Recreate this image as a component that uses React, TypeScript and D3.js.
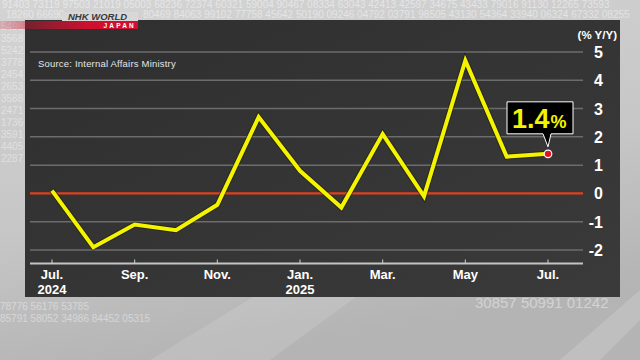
import React, { useEffect, useRef } from "react";
import * as d3 from "d3";

// real household spending, % Y/Y
const months = ["Jul.", "Aug.", "Sep.", "Oct.", "Nov.", "Dec.", "Jan.", "Feb.", "Mar.", "Apr.", "May", "Jun.", "Jul."];
const years = ["2024", "", "", "", "", "", "2025", "", "", "", "", "", ""];
const values = [0.1, -1.9, -1.1, -1.3, -0.4, 2.7, 0.8, -0.5, 2.1, -0.1, 4.7, 1.3, 1.4];
const yTicks = [5, 4, 3, 2, 1, 0, -1, -2];
const labelEvery = 2;

// decorative ticker digits in the backdrop
const topRow = "91403 73119 97503 21019 05003 68236 72374 60321 59004 90467 08334 63043 42413 42597 34675 43433 79016 91130 12265 73593";
const secondRowLeft = "18260 66690";
const secondRowRight = "80469 84063 99102 77758 45642 50190 09246 04792 03791 98505 43130 54364 33940 06324 67332 08255";
const leftRows = ["5496", "3568", "5242", "3778", "2454", "2653", "3588", "2471", "1736", "3591", "4405", "2287"];
const bottomLeftRows = ["78776 56176 53785", "85791 58052 34986 84452 05315"];
const bottomRightRows = ["30857 50991 01242"];

const W = 640;
const H = 360;

export default function App() {
  const svgRef = useRef<SVGSVGElement>(null);

  useEffect(() => {
    document.body.style.margin = "0";
    const svg = d3.select(svgRef.current);
    svg.selectAll("*").remove();

    const defs = svg.append("defs");
    const bg = defs.append("linearGradient").attr("id", "bg").attr("x1", 0).attr("y1", 0).attr("x2", 0.3).attr("y2", 1);
    bg.append("stop").attr("offset", "0%").attr("stop-color", "#d4d4d4");
    bg.append("stop").attr("offset", "60%").attr("stop-color", "#c6c6c6");
    bg.append("stop").attr("offset", "100%").attr("stop-color", "#b4b4b4");

    const panel = defs.append("linearGradient").attr("id", "panel").attr("x1", 0).attr("y1", 0).attr("x2", 1).attr("y2", 1);
    panel.append("stop").attr("offset", "0%").attr("stop-color", "#2f2f2f");
    panel.append("stop").attr("offset", "100%").attr("stop-color", "#3a3a3a");

    const red = defs.append("linearGradient").attr("id", "red").attr("x1", 0).attr("x2", 1).attr("y1", 0).attr("y2", 0);
    red.append("stop").attr("offset", "0%").attr("stop-color", "#d0102e").attr("stop-opacity", 0.2);
    red.append("stop").attr("offset", "65%").attr("stop-color", "#d0102e").attr("stop-opacity", 1);

    svg.append("rect").attr("width", W).attr("height", H).attr("fill", "url(#bg)");
    svg.append("path")
      .attr("d", "M150,360 L330,250 L420,250 L270,360 Z")
      .attr("fill", "#ffffff").attr("opacity", 0.12);
    svg.append("path")
      .attr("d", "M560,360 L640,290 L640,320 L600,360 Z")
      .attr("fill", "#ffffff").attr("opacity", 0.15);

    const digits = svg.append("g")
      .attr("font-family", "'Liberation Sans Narrow', 'Liberation Sans', Arial, sans-serif")
      .attr("fill", "#ffffff");
    digits.append("text").attr("x", 2).attr("y", 8).attr("font-size", 10).attr("opacity", 0.45).text(topRow);
    digits.append("text").attr("x", 6).attr("y", 18).attr("font-size", 10).attr("opacity", 0.45).text(secondRowLeft);
    digits.append("text").attr("x", 143).attr("y", 18).attr("font-size", 10).attr("opacity", 0.45).text(secondRowRight);
    leftRows.forEach((r, i) => {
      digits.append("text").attr("x", 1).attr("y", 30 + i * 12).attr("font-size", 10)
        .attr("opacity", 0.4).text(r);
    });
    bottomLeftRows.forEach((r, i) => {
      digits.append("text").attr("x", 0).attr("y", 310 + i * 12).attr("font-size", 10)
        .attr("opacity", 0.4).text(r);
    });
    bottomRightRows.forEach((r, i) => {
      digits.append("text").attr("x", 475).attr("y", 308 + i * 19).attr("font-size", 15)
        .attr("opacity", 0.4).text(r);
    });

    // chart panel
    svg.append("rect").attr("x", 25).attr("y", 20).attr("width", 595).attr("height", 277).attr("fill", "url(#panel)");

    // logo
    svg.append("rect").attr("x", 0).attr("y", 21).attr("width", 138).attr("height", 8).attr("fill", "url(#red)");
    svg.append("rect").attr("x", 62).attr("y", 12).attr("width", 76).attr("height", 9).attr("fill", "#d8d8d8");
    svg.append("text").attr("x", 68).attr("y", 20).attr("font-family", "'Liberation Sans', Arial, sans-serif")
      .attr("font-size", 9.5).attr("font-weight", "bold").attr("font-style", "italic").attr("fill", "#3a3a3a")
      .text("NHK WORLD");
    svg.append("text").attr("x", 136).attr("y", 28).attr("text-anchor", "end")
      .attr("font-family", "'Liberation Sans', Arial, sans-serif")
      .attr("font-size", 6.5).attr("font-weight", "bold").attr("letter-spacing", 2.2).attr("fill", "#ffffff")
      .text("JAPAN");

    const x = d3.scalePoint<number>().domain(d3.range(months.length)).range([52, 548]);
    const y = d3.scaleLinear().domain([-2, 5]).range([250, 52]);
    const x0 = 30;
    const x1 = 583;

    // gridlines
    svg.append("g").selectAll("line").data(yTicks.filter((t) => t !== 0)).join("line")
      .attr("x1", x0).attr("x2", x1).attr("y1", (d) => y(d)).attr("y2", (d) => y(d))
      .attr("stroke", "#6c6c6c").attr("stroke-width", 1.5);

    svg.append("line").attr("x1", x0).attr("x2", x1).attr("y1", y(0)).attr("y2", y(0))
      .attr("stroke", "#e0401c").attr("stroke-width", 2.2);

    const font = "'Liberation Sans', Arial, Helvetica, sans-serif";

    svg.append("text").attr("x", 38).attr("y", 67).attr("font-family", font).attr("font-size", 9.5)
      .attr("letter-spacing", 0.2).attr("fill", "#e6e6e6").text("Source: Internal Affairs Ministry");

    svg.append("g").selectAll("text").data(yTicks).join("text")
      .attr("x", 603).attr("y", (d) => y(d) + 6).attr("text-anchor", "end")
      .attr("font-family", font).attr("font-size", 16).attr("font-weight", "bold").attr("fill", "#ffffff")
      .text((d) => `${d}`);
    svg.append("text").attr("x", 617).attr("y", 39).attr("text-anchor", "end")
      .attr("font-family", font).attr("font-size", 11.5).attr("font-weight", "bold").attr("fill", "#ffffff")
      .text("(% Y/Y)");

    // x axis
    const axisY = 263.5;
    svg.append("line").attr("x1", x0).attr("x2", x1).attr("y1", axisY).attr("y2", axisY)
      .attr("stroke", "#c4c4c4").attr("stroke-width", 2);
    const idx = d3.range(0, months.length, labelEvery);
    svg.append("g").selectAll("line").data(idx).join("line")
      .attr("x1", (i) => x(i)!).attr("x2", (i) => x(i)!).attr("y1", axisY).attr("y2", axisY - 4)
      .attr("stroke", "#d0d0d0").attr("stroke-width", 1);
    svg.append("g").selectAll("text").data(idx).join("text")
      .attr("x", (i) => x(i)!).attr("y", 279).attr("text-anchor", "middle")
      .attr("font-family", font).attr("font-size", 13).attr("font-weight", "bold").attr("fill", "#ffffff")
      .text((i) => months[i]);
    svg.append("g").selectAll("text").data(idx.filter((i) => years[i])).join("text")
      .attr("x", (i) => x(i)!).attr("y", 293.5).attr("text-anchor", "middle")
      .attr("font-family", font).attr("font-size", 13).attr("font-weight", "bold").attr("fill", "#ffffff")
      .text((i) => years[i]);

    // line
    const line = d3.line<number>().x((_, i) => x(i)!).y((d) => y(d));
    svg.append("path").datum(values).attr("d", line)
      .attr("fill", "none").attr("stroke", "#1a1a00").attr("stroke-opacity", 0.5).attr("stroke-width", 6)
      .attr("stroke-linejoin", "miter");
    svg.append("path").datum(values).attr("d", line)
      .attr("fill", "none").attr("stroke", "#f4f400").attr("stroke-width", 4)
      .attr("stroke-linejoin", "miter");

    // latest point callout
    const li = values.length - 1;
    const px = x(li)!;
    const py = y(values[li]);
    const bx = px - 41;
    const bw = 66;
    const by = py - 52;
    const bh = 32;
    svg.append("path")
      .attr("d", `M${bx},${by} H${bx + bw} V${by + bh} H${px + 3} L${px},${py - 7} L${px - 5},${by + bh} H${bx} Z`)
      .attr("fill", "#000000").attr("stroke", "#ffffff").attr("stroke-width", 1);
    const lbl = svg.append("text").attr("x", bx + 5).attr("y", by + 26).attr("font-family", font)
      .attr("font-weight", "bold").attr("fill", "#f4f400");
    lbl.append("tspan").attr("font-size", 27).text(`${values[li]}`);
    lbl.append("tspan").attr("font-size", 18).attr("dx", 1).text("%");
    svg.append("circle").attr("cx", px).attr("cy", py).attr("r", 3.8)
      .attr("fill", "#e8101a").attr("stroke", "#ffffff").attr("stroke-width", 1.2);
  }, []);

  return <svg ref={svgRef} width={W} height={H} style={{ display: "block" }} />;
}
